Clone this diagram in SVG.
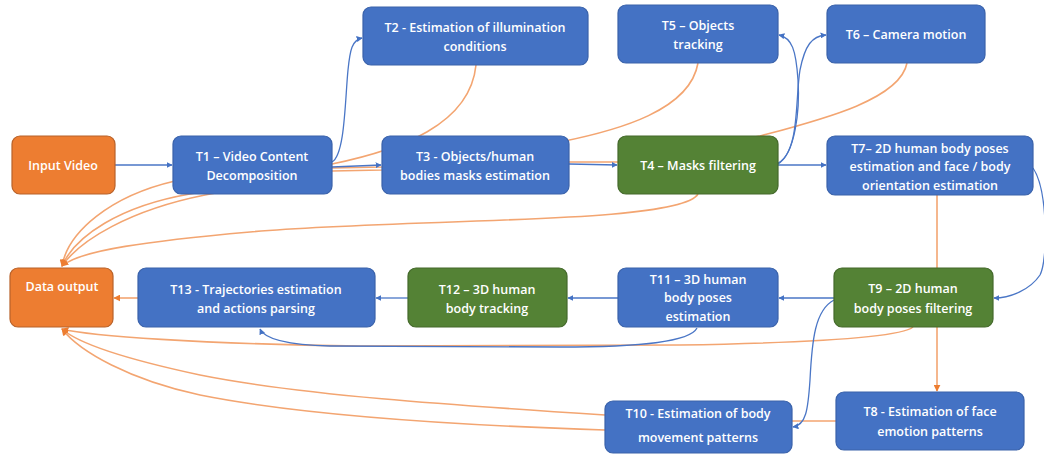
<svg xmlns="http://www.w3.org/2000/svg" width="1044" height="456" viewBox="0 0 1044 456">
<style>
.b{fill:#4472C4;stroke:#3A62AA;stroke-width:1.2}
.o{fill:#ED7D31;stroke:#B8622A;stroke-width:1.2}
.g{fill:#548235;stroke:#44692B;stroke-width:1.2}
text{font-family:"Open Sans","Liberation Sans",sans-serif;font-weight:600;font-size:12.5px;fill:#FFFFFF;text-anchor:middle}
.cb{fill:none;stroke:#4A76C6;stroke-width:1.3}
.co{fill:none;stroke:#F3A571;stroke-width:1.6}
</style>
<defs>
<marker id="ab" viewBox="0 0 10 10" refX="9" refY="5" markerWidth="6" markerHeight="6" markerUnits="userSpaceOnUse" orient="auto"><path d="M0,0 L10,5 L0,10 z" fill="#4472C4"/></marker>
<marker id="ao" viewBox="0 0 10 10" refX="9" refY="5" markerWidth="7" markerHeight="7" markerUnits="userSpaceOnUse" orient="auto"><path d="M0,0 L10,5 L0,10 z" fill="#ED7D31"/></marker>
</defs>
<rect width="1044" height="456" fill="#FFFFFF"/>
<g id="connectors">
<path class="co" d="M476,65 C470,125 400,150 332,164 L175,181 C110,196 68,232 62,266" marker-end="url(#ao)"/>
<path class="co" d="M698,63 C690,110 620,130 560,142 L382,167 L332,168 L190,194 C120,206 75,236 62,266" marker-end="url(#ao)"/>
<path class="co" d="M907,63 C900,100 820,120 760,136 L618,162 L569,162 L382,170 L332,171 L205,195 C130,210 80,240 62,266" marker-end="url(#ao)"/>
<path class="co" d="M698,194 C680,225 400,218 250,232 C150,241 80,250 62,266" marker-end="url(#ao)"/>
<path class="co" d="M937,195 L937,391" marker-end="url(#ao)"/>
<path class="co" d="M913,327 C900,338 800,343 680,345 L360,346 C200,344 90,336 62,329" marker-end="url(#ao)"/>
<path class="co" d="M605,415 C450,405 300,395 200,375 C130,360 80,345 62,329" marker-end="url(#ao)"/>
<path class="co" d="M836,421 L792,421 L605,430 C450,425 300,415 200,395 C130,380 80,352 62,329" marker-end="url(#ao)"/>
<path class="co" d="M138,298 L114,298" marker-end="url(#ao)"/>
<path class="cb" d="M115,165 L172,165" marker-end="url(#ab)"/>
<path class="cb" d="M332,162 C345,155 345,100 348,70 C350,50 352,40 362,38" marker-end="url(#ab)"/>
<path class="cb" d="M332,167 L381,165" marker-end="url(#ab)"/>
<path class="cb" d="M569,164 L617,165" marker-end="url(#ab)"/>
<path class="cb" d="M778,163 C795,155 800,110 798,80 C796,50 792,38 779,35" marker-end="url(#ab)"/>
<path class="cb" d="M778,164 C800,150 795,100 800,70 C805,45 812,36 826,35" marker-end="url(#ab)"/>
<path class="cb" d="M778,165 L826,165" marker-end="url(#ab)"/>
<path class="cb" d="M1033,168 C1048,190 1048,260 1040,275 C1030,290 1010,298 994,298" marker-end="url(#ab)"/>
<path class="cb" d="M834,298 L779,298" marker-end="url(#ab)"/>
<path class="cb" d="M618,298 L568,298" marker-end="url(#ab)"/>
<path class="cb" d="M408,298 L376,298" marker-end="url(#ab)"/>
<path class="cb" d="M834,300 C815,310 812,340 810,380 C808,410 806,425 793,427" marker-end="url(#ab)"/>
<path class="cb" d="M697,328 C690,342 640,347 560,347 L330,346 C290,345 265,340 260,329" marker-end="url(#ab)"/>
</g>
<g id="input-video"><rect class="o" x="12" y="136" width="103" height="58" rx="8"/><text x="63" y="170">Input Video</text></g>
<g id="t1"><rect class="b" x="173" y="136" width="159" height="58" rx="8"/><text x="252" y="161">T1 – Video Content</text><text x="252" y="180">Decomposition</text></g>
<g id="t2"><rect class="b" x="363" y="7" width="225" height="58" rx="8"/><text x="475" y="32">T2 - Estimation of illumination</text><text x="475" y="51">conditions</text></g>
<g id="t3"><rect class="b" x="382" y="136" width="187" height="58" rx="8"/><text x="475" y="161">T3 - Objects/human</text><text x="475" y="180">bodies masks estimation</text></g>
<g id="t4"><rect class="g" x="618" y="136" width="160" height="58" rx="8"/><text x="698" y="170">T4 – Masks filtering</text></g>
<g id="t5"><rect class="b" x="618" y="5" width="160" height="58" rx="8"/><text x="698" y="30">T5 – Objects</text><text x="698" y="49">tracking</text></g>
<g id="t6"><rect class="b" x="827" y="5" width="158" height="58" rx="8"/><text x="906" y="39">T6 – Camera motion</text></g>
<g id="t7"><rect class="b" x="827" y="136" width="206" height="59" rx="8"/><text x="930" y="153">T7– 2D human body poses</text><text x="930" y="171">estimation and face / body</text><text x="930" y="190">orientation estimation</text></g>
<g id="data-output"><rect class="o" x="10" y="268" width="103" height="59" rx="8"/><text x="62" y="291">Data output</text></g>
<g id="t13"><rect class="b" x="138" y="268" width="237" height="59" rx="8"/><text x="256" y="294">T13 - Trajectories estimation</text><text x="256" y="313">and actions parsing</text></g>
<g id="t12"><rect class="g" x="408" y="268" width="159" height="59" rx="8"/><text x="487" y="294">T12 – 3D human</text><text x="487" y="313">body tracking</text></g>
<g id="t11"><rect class="b" x="618" y="268" width="160" height="59" rx="8"/><text x="698" y="284">T11 – 3D human</text><text x="698" y="302">body poses</text><text x="698" y="321">estimation</text></g>
<g id="t9"><rect class="g" x="834" y="268" width="159" height="59" rx="8"/><text x="913" y="293">T9 – 2D human</text><text x="913" y="313">body poses filtering</text></g>
<g id="t10"><rect class="b" x="605" y="401" width="187" height="52" rx="8"/><text x="698" y="418">T10 - Estimation of body</text><text x="698" y="442">movement patterns</text></g>
<g id="t8"><rect class="b" x="836" y="392" width="188" height="58" rx="8"/><text x="930" y="416">T8 - Estimation of face</text><text x="930" y="436">emotion patterns</text></g>
</svg>
